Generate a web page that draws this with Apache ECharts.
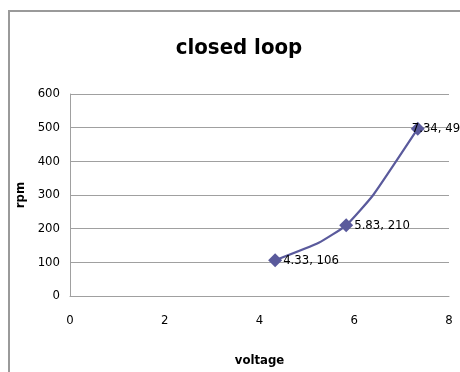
<!DOCTYPE html>
<html>
<head>
<meta charset="utf-8">
<script src="https://cdn.jsdelivr.net/npm/echarts@6/dist/echarts.min.js"></script>
<style>
  html, body { margin: 0; padding: 0; background: #fff; }
  #chart { width: 460px; height: 372px; }
</style>
</head>
<body>
<div id="chart"></div>
<script>
// voltage / rpm samples; only the measured points carry a marker + label
var voltage = [4.33, 5.25, 5.83, 6.4, 7.34];
var rpm = [106, 158, 210, 300, 497];
var measured = [true, false, true, false, true];
var xTicks = [0, 2, 4, 6, 8];
var yTicks = [0, 100, 200, 300, 400, 500, 600];

var font = '"Liberation Sans Narrow", "DejaVu Sans Condensed", sans-serif';

var data = [];
for (var i = 0; i < voltage.length; i++) {
    var item = { value: [voltage[i], rpm[i]] };
    if (!measured[i]) {
        item.symbol = 'none';
        item.label = { show: false };
    }
    data.push(item);
}
// last label sits on top of its marker in the original
data[data.length - 1].label = { offset: [-14, 0] };

var chart = echarts.init(document.getElementById('chart'));
chart.setOption({
    animation: false,
    title: {
        text: 'closed loop',
        left: 234,
        textAlign: 'center',
        top: 32,
        textStyle: { fontFamily: font, fontSize: 22, fontWeight: 'bold', color: '#000' }
    },
    graphic: [{
        type: 'rect',
        shape: { x: 9, y: 11, width: 470, height: 380 },
        style: { fill: 'none', stroke: '#9a9a9a', lineWidth: 2 }
    }],
    grid: { left: 70, right: 11, top: 94, bottom: 74 },
    xAxis: {
        type: 'value',
        min: xTicks[0],
        max: xTicks[xTicks.length - 1],
        interval: 2,
        name: 'voltage',
        nameLocation: 'middle',
        nameGap: 58,
        nameTextStyle: { fontFamily: font, fontSize: 13, fontWeight: 'bold', color: '#000' },
        axisLine: { show: true, lineStyle: { color: '#a0a0a0', width: 1 } },
        axisTick: { show: false },
        axisLabel: { margin: 18, fontFamily: font, fontSize: 13, color: '#000' },
        splitLine: { show: false }
    },
    yAxis: {
        type: 'value',
        min: yTicks[0],
        max: yTicks[yTicks.length - 1],
        interval: 100,
        name: 'rpm',
        nameLocation: 'middle',
        nameGap: 38,
        nameTextStyle: { fontFamily: font, fontSize: 13, fontWeight: 'bold', color: '#000' },
        axisLine: { show: true, lineStyle: { color: '#a0a0a0', width: 1 } },
        axisTick: { show: false },
        axisLabel: { margin: 10, fontFamily: font, fontSize: 13, color: '#000' },
        splitLine: { show: true, lineStyle: { color: '#a0a0a0', width: 1 } }
    },
    series: [{
        type: 'line',
        data: data,
        smooth: 0.15,
        symbol: 'diamond',
        symbolSize: 14,
        showAllSymbol: true,
        lineStyle: { color: '#5a5a9c', width: 2.2 },
        itemStyle: { color: '#5a5a9c' },
        label: {
            show: true,
            position: 'right',
            distance: 1,
            fontFamily: font,
            fontSize: 13,
            color: '#000',
            formatter: function(p) { return p.value[0] + ', ' + p.value[1]; }
        }
    }]
});
</script>
</body>
</html>
